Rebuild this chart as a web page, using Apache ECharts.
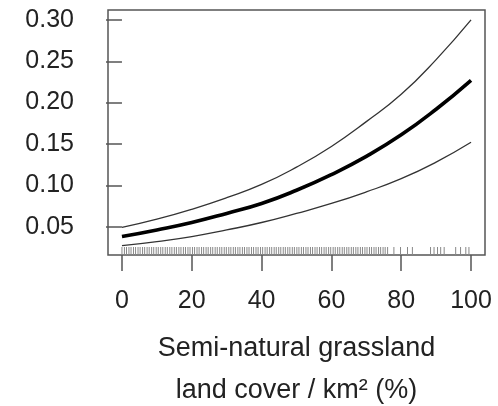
<!DOCTYPE html>
<html>
<head>
<meta charset="utf-8">
<script src="https://cdn.jsdelivr.net/npm/echarts@6/dist/echarts.min.js"></script>
<style>html,body{margin:0;padding:0;background:#fff;}#c{width:498px;height:406px;}</style>
</head>
<body>
<div id="c"></div>
<script>
// Data
const xValues = [0, 10, 20, 30, 40, 50, 60, 70, 80, 90, 100];
const fitValues = [0.038, 0.046, 0.055, 0.066, 0.078, 0.094, 0.113, 0.135, 0.161, 0.192, 0.227];
const upperValues = [0.049, 0.059, 0.071, 0.085, 0.101, 0.122, 0.147, 0.177, 0.210, 0.252, 0.300];
const lowerValues = [0.027, 0.032, 0.038, 0.046, 0.055, 0.066, 0.078, 0.092, 0.108, 0.128, 0.152];
const rugValues = [0, 0.7, 1.3, 2.0, 2.6, 3.3, 3.9, 4.6, 5.2, 5.9, 6.5, 7.2, 7.8, 8.5, 9.1, 9.8, 10.4, 11.1, 11.7, 12.4, 13.0, 13.7, 14.3, 15.0, 15.6, 16.3, 16.9, 17.6, 18.2, 18.9, 19.5, 20.2, 20.8, 21.5, 22.1, 22.8, 23.4, 24.1, 24.7, 25.4, 26.0, 26.7, 27.3, 28.0, 28.6, 29.3, 29.9, 30.6, 31.2, 31.9, 32.5, 33.2, 33.8, 34.5, 35.1, 35.8, 36.4, 37.1, 37.7, 38.4, 39.0, 39.7, 40.3, 41.0, 41.6, 42.3, 42.9, 43.6, 44.2, 44.9, 45.5, 46.2, 46.8, 47.5, 48.1, 48.8, 49.4, 50.1, 50.7, 51.4, 52.0, 52.7, 53.3, 54.0, 54.6, 55.3, 55.9, 56.6, 57.2, 57.9, 58.5, 59.2, 59.8, 60.5, 61.1, 61.8, 62.4, 63.1, 63.7, 64.4, 65.0, 65.7, 66.3, 67.0, 67.6, 68.3, 68.9, 69.6, 70.2, 70.9, 71.5, 72.2, 72.8, 73.5, 74.1, 74.8, 75.4, 76.1, 77.9, 79.8, 81.8, 83.2, 88.4, 89.4, 90.4, 91.3, 92.3, 95.6, 97.0, 98.5, 99.4];
const xTicks = [0, 20, 40, 60, 80, 100];
const yTicks = [0.05, 0.10, 0.15, 0.20, 0.25, 0.30];
const xTitle = 'Semi-natural grassland\nland cover / km\u00B2 (%)';

const X_MIN = -4, X_MAX = 104, Y_MIN = 0.0157, Y_MAX = 0.312;
const FONT = 'Liberation Sans';

function pairs(ys) { return xValues.map((x, i) => [x, ys[i]]); }

const chart = echarts.init(document.getElementById('c'), null, { renderer: 'canvas' });
chart.setOption({
  animation: false,
  backgroundColor: '#ffffff',
  grid: { left: 108, right: 13, top: 10, bottom: 151, containLabel: false, outerBoundsMode: 'none', show: true, borderColor: '#555', borderWidth: 1.5, backgroundColor: 'transparent' },
  xAxis: {
    type: 'value', min: X_MIN, max: X_MAX,
    splitLine: { show: false },
    axisLine: { show: false },
    axisTick: { show: true, length: 16, inside: false, customValues: xTicks, lineStyle: { color: '#555', width: 1.5 } },
    axisLabel: { customValues: xTicks, margin: 34, fontFamily: FONT, fontSize: 25, color: '#222' },
    name: xTitle, nameLocation: 'middle', nameGap: 73,
    nameTextStyle: { fontFamily: FONT, fontSize: 27, color: '#222', lineHeight: 42 }
  },
  yAxis: {
    type: 'value', min: Y_MIN, max: Y_MAX,
    splitLine: { show: false },
    axisLine: { show: false },
    axisTick: { show: true, length: 16, inside: false, customValues: yTicks, lineStyle: { color: '#555', width: 1.5 } },
    axisLabel: { customValues: yTicks, margin: 34, fontFamily: FONT, fontSize: 25, color: '#222', formatter: v => v.toFixed(2) }
  },
  series: [
    { type: 'line', data: pairs(upperValues), smooth: true, showSymbol: false, lineStyle: { color: '#333', width: 1.3 }, z: 3 },
    { type: 'line', data: pairs(lowerValues), smooth: true, showSymbol: false, lineStyle: { color: '#333', width: 1.3 }, z: 3 },
    { type: 'line', data: pairs(fitValues), smooth: true, showSymbol: false, lineStyle: { color: '#000', width: 3.6 }, z: 4 },
    {
      type: 'custom',
      data: rugValues.map(v => [v]),
      renderItem: function (params, api) {
        const p = api.coord([api.value(0), Y_MIN]);
        return { type: 'line', shape: { x1: p[0], y1: p[1], x2: p[0], y2: p[1] - 8 }, style: { stroke: '#888', lineWidth: 1 } };
      },
      z: 2
    }
  ]
});
</script>
</body>
</html>
